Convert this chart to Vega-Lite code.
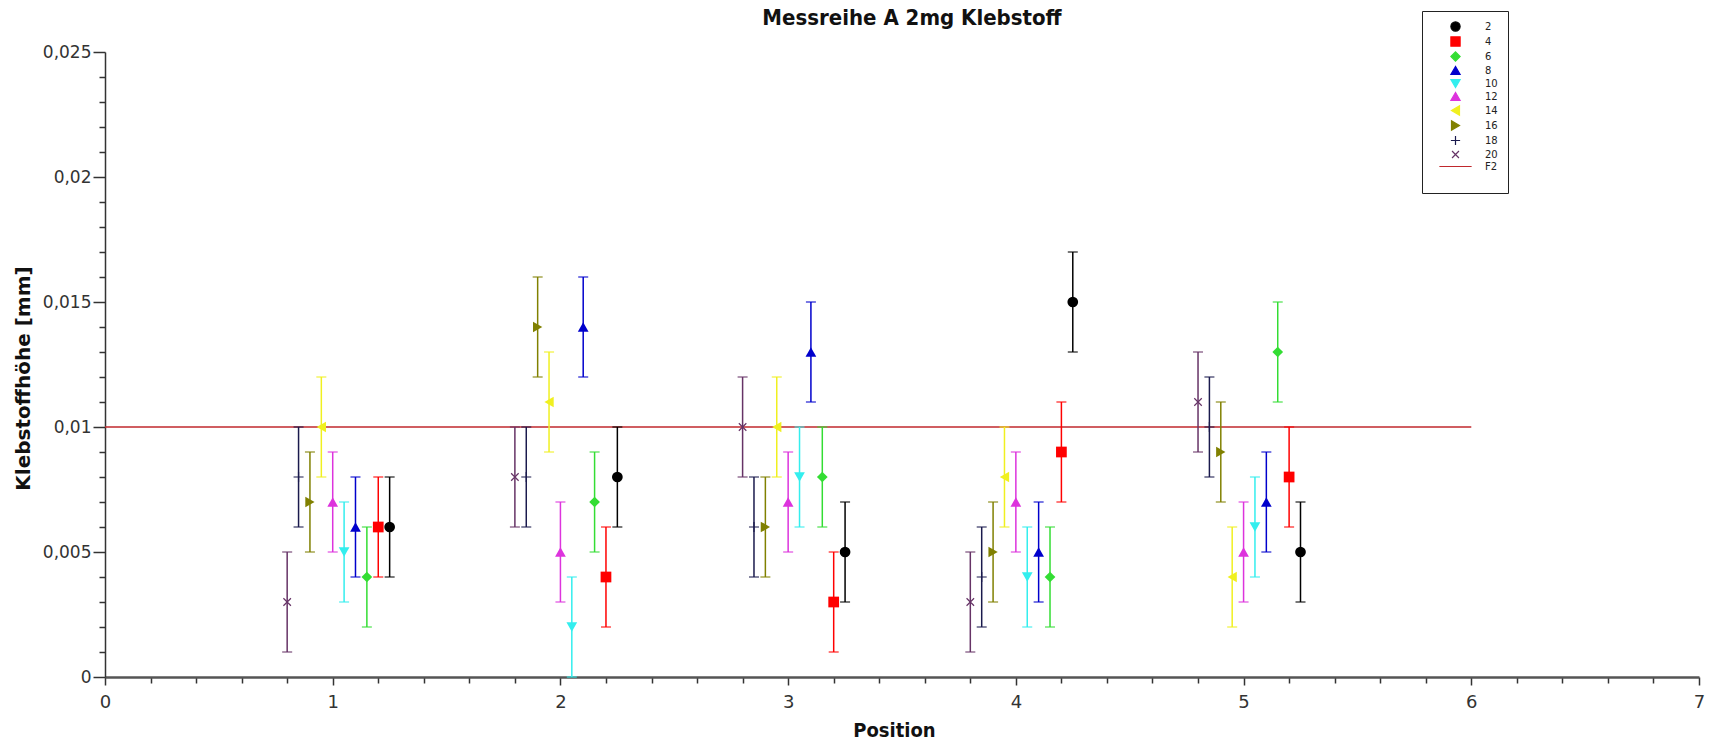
{
  "$schema": "https://vega.github.io/schema/vega-lite/v6.json",
  "width": 1594,
  "height": 625,
  "autosize": {"type": "none"},
  "padding": {"left": 105, "top": 52, "right": 14, "bottom": 66},
  "background": "white",
  "config": {"view": {"stroke": null}, "font": "DejaVu Sans"},
  "title": {"text": "Messreihe A 2mg Klebstoff", "fontSize": 22, "font": "DejaVu Sans Condensed, DejaVu Sans", "fontWeight": "bold", "anchor": "middle", "frame": "group", "dx": 10, "offset": -19, "color": "#111"},
  "resolve": {"legend": {"color": "independent", "shape": "independent"}},
  "datasets": {
    "pts": [
      {"series": "20", "x": 0.8, "y": 0.003, "lo": 0.001, "hi": 0.005},
      {"series": "18", "x": 0.85, "y": 0.008, "lo": 0.006, "hi": 0.010},
      {"series": "16", "x": 0.9, "y": 0.007, "lo": 0.005, "hi": 0.009},
      {"series": "14", "x": 0.95, "y": 0.010, "lo": 0.008, "hi": 0.012},
      {"series": "12", "x": 1.0, "y": 0.007, "lo": 0.005, "hi": 0.009},
      {"series": "10", "x": 1.05, "y": 0.005, "lo": 0.003, "hi": 0.007},
      {"series": "8", "x": 1.1, "y": 0.006, "lo": 0.004, "hi": 0.008},
      {"series": "6", "x": 1.15, "y": 0.004, "lo": 0.002, "hi": 0.006},
      {"series": "4", "x": 1.2, "y": 0.006, "lo": 0.004, "hi": 0.008},
      {"series": "2", "x": 1.25, "y": 0.006, "lo": 0.004, "hi": 0.008},
      {"series": "20", "x": 1.8, "y": 0.008, "lo": 0.006, "hi": 0.010},
      {"series": "18", "x": 1.85, "y": 0.008, "lo": 0.006, "hi": 0.010},
      {"series": "16", "x": 1.9, "y": 0.014, "lo": 0.012, "hi": 0.016},
      {"series": "14", "x": 1.95, "y": 0.011, "lo": 0.009, "hi": 0.013},
      {"series": "12", "x": 2.0, "y": 0.005, "lo": 0.003, "hi": 0.007},
      {"series": "10", "x": 2.05, "y": 0.002, "lo": 0.0, "hi": 0.004},
      {"series": "8", "x": 2.1, "y": 0.014, "lo": 0.012, "hi": 0.016},
      {"series": "6", "x": 2.15, "y": 0.007, "lo": 0.005, "hi": 0.009},
      {"series": "4", "x": 2.2, "y": 0.004, "lo": 0.002, "hi": 0.006},
      {"series": "2", "x": 2.25, "y": 0.008, "lo": 0.006, "hi": 0.010},
      {"series": "20", "x": 2.8, "y": 0.010, "lo": 0.008, "hi": 0.012},
      {"series": "18", "x": 2.85, "y": 0.006, "lo": 0.004, "hi": 0.008},
      {"series": "16", "x": 2.9, "y": 0.006, "lo": 0.004, "hi": 0.008},
      {"series": "14", "x": 2.95, "y": 0.010, "lo": 0.008, "hi": 0.012},
      {"series": "12", "x": 3.0, "y": 0.007, "lo": 0.005, "hi": 0.009},
      {"series": "10", "x": 3.05, "y": 0.008, "lo": 0.006, "hi": 0.010},
      {"series": "8", "x": 3.1, "y": 0.013, "lo": 0.011, "hi": 0.015},
      {"series": "6", "x": 3.15, "y": 0.008, "lo": 0.006, "hi": 0.010},
      {"series": "4", "x": 3.2, "y": 0.003, "lo": 0.001, "hi": 0.005},
      {"series": "2", "x": 3.25, "y": 0.005, "lo": 0.003, "hi": 0.007},
      {"series": "20", "x": 3.8, "y": 0.003, "lo": 0.001, "hi": 0.005},
      {"series": "18", "x": 3.85, "y": 0.004, "lo": 0.002, "hi": 0.006},
      {"series": "16", "x": 3.9, "y": 0.005, "lo": 0.003, "hi": 0.007},
      {"series": "14", "x": 3.95, "y": 0.008, "lo": 0.006, "hi": 0.010},
      {"series": "12", "x": 4.0, "y": 0.007, "lo": 0.005, "hi": 0.009},
      {"series": "10", "x": 4.05, "y": 0.004, "lo": 0.002, "hi": 0.006},
      {"series": "8", "x": 4.1, "y": 0.005, "lo": 0.003, "hi": 0.007},
      {"series": "6", "x": 4.15, "y": 0.004, "lo": 0.002, "hi": 0.006},
      {"series": "4", "x": 4.2, "y": 0.009, "lo": 0.007, "hi": 0.011},
      {"series": "2", "x": 4.25, "y": 0.015, "lo": 0.013, "hi": 0.017},
      {"series": "20", "x": 4.8, "y": 0.011, "lo": 0.009, "hi": 0.013},
      {"series": "18", "x": 4.85, "y": 0.010, "lo": 0.008, "hi": 0.012},
      {"series": "16", "x": 4.9, "y": 0.009, "lo": 0.007, "hi": 0.011},
      {"series": "14", "x": 4.95, "y": 0.004, "lo": 0.002, "hi": 0.006},
      {"series": "12", "x": 5.0, "y": 0.005, "lo": 0.003, "hi": 0.007},
      {"series": "10", "x": 5.05, "y": 0.006, "lo": 0.004, "hi": 0.008},
      {"series": "8", "x": 5.1, "y": 0.007, "lo": 0.005, "hi": 0.009},
      {"series": "6", "x": 5.15, "y": 0.013, "lo": 0.011, "hi": 0.015},
      {"series": "4", "x": 5.2, "y": 0.008, "lo": 0.006, "hi": 0.010},
      {"series": "2", "x": 5.25, "y": 0.005, "lo": 0.003, "hi": 0.007}
    ],
    "f2": [{"series": "F2", "x": 0, "x2": 6, "y": 0.01}]
  },
  "data": {"name": "pts"},
  "encoding": {
    "x": {
      "field": "x", "type": "quantitative",
      "scale": {"domain": [0, 7], "nice": false, "zero": false},
      "axis": {
        "values": [0, 0.2, 0.4, 0.6, 0.8, 1, 1.2, 1.4, 1.6, 1.8, 2, 2.2, 2.4, 2.6, 2.8, 3, 3.2, 3.4, 3.6, 3.8, 4, 4.2, 4.4, 4.6, 4.8, 5, 5.2, 5.4, 5.6, 5.8, 6, 6.2, 6.4, 6.6, 6.8, 7],
        "labelExpr": "datum.value % 1 == 0 ? toString(datum.value) : ''",
        "tickSize": {"condition": {"test": "datum.value % 1 == 0", "value": 8}, "value": 6},
        "grid": false,
        "title": "Position",
        "titleFont": "DejaVu Sans Condensed, DejaVu Sans",
        "titleFontWeight": "bold",
        "titleFontSize": 20,
        "titleColor": "#111",
        "titleX": 789,
        "titleY": 53,
        "titleBaseline": "middle",
        "labelFontSize": 18,
        "labelFont": "DejaVu Sans",
        "labelColor": "#333",
        "labelPadding": 8,
        "labelFlush": false,
        "labelOverlap": false,
        "domainColor": "#555",
        "domainWidth": 2.5,
        "tickColor": "#333",
        "tickWidth": 1.5
      }
    },
    "y": {
      "field": "y", "type": "quantitative",
      "scale": {"domain": [0, 0.025], "nice": false, "zero": true},
      "axis": {
        "values": [0, 0.001, 0.002, 0.003, 0.004, 0.005, 0.006, 0.007, 0.008, 0.009, 0.01, 0.011, 0.012, 0.013, 0.014, 0.015, 0.016, 0.017, 0.018, 0.019, 0.02, 0.021, 0.022, 0.023, 0.024, 0.025],
        "labelExpr": "round(datum.value*1000) % 5 == 0 ? replace(toString(datum.value), '.', ',') : ''",
        "tickSize": {"condition": {"test": "round(datum.value*1000) % 5 == 0", "value": 12}, "value": 6},
        "grid": false,
        "title": "Klebstoffhöhe [mm]",
        "titleFont": "DejaVu Sans",
        "titleFontWeight": "bold",
        "titleFontSize": 20,
        "titleColor": "#111",
        "titleX": -82,
        "titleY": 326,
        "titleBaseline": "middle",
        "labelFontSize": 17,
        "labelColor": "#333",
        "labelPadding": 2,
        "labelOverlap": false,
        "domainColor": "#333",
        "domainWidth": 1.5,
        "tickColor": "#333",
        "tickWidth": 1.5
      }
    }
  },
  "layer": [
    {
      "data": {"name": "f2"},
      "mark": {"type": "rule", "color": "#c0282d", "strokeWidth": 1.5},
      "encoding": {
        "x2": {"field": "x2"}
      }
    },
    {
      "mark": {"type": "errorbar", "ticks": true, "size": 10, "thickness": 1.5},
      "encoding": {
        "y": {
          "field": "lo", "type": "quantitative",
          "scale": {"domain": [0, 0.025], "nice": false, "zero": true},
          "axis": {
            "values": [0, 0.001, 0.002, 0.003, 0.004, 0.005, 0.006, 0.007, 0.008, 0.009, 0.01, 0.011, 0.012, 0.013, 0.014, 0.015, 0.016, 0.017, 0.018, 0.019, 0.02, 0.021, 0.022, 0.023, 0.024, 0.025],
            "labelExpr": "round(datum.value*1000) % 5 == 0 ? replace(toString(datum.value), '.', ',') : ''",
            "tickSize": {"condition": {"test": "round(datum.value*1000) % 5 == 0", "value": 12}, "value": 6},
            "grid": false,
            "title": "Klebstoffhöhe [mm]",
            "titleFont": "DejaVu Sans",
            "titleFontWeight": "bold",
            "titleFontSize": 20,
            "titleColor": "#111",
            "titleX": -82,
            "titleY": 326,
            "titleBaseline": "middle",
            "labelFontSize": 17,
            "labelColor": "#333",
            "labelPadding": 2,
            "labelOverlap": false,
            "domainColor": "#333",
            "domainWidth": 1.5,
            "tickColor": "#333",
            "tickWidth": 1.5
          }
        },
        "y2": {"field": "hi"},
        "color": {"field": "series", "type": "nominal", "legend": null}
      }
    },
    {
      "transform": [{"filter": "datum.series != '18' && datum.series != '20'"}],
      "mark": {"type": "point", "filled": true, "size": 115, "opacity": 1, "strokeWidth": 0},
      "encoding": {
        "color": {
          "field": "series", "type": "nominal",
          "scale": {
            "domain": ["2", "4", "6", "8", "10", "12", "14", "16", "18", "20", "F2"],
            "range": ["#000000", "#ff0000", "#33dd33", "#0000cc", "#33eeee", "#dd33dd", "#f0f020", "#808000", "#1a1a4d", "#663366", "#c0282d"]
          },
          "legend": {
            "orient": "none", "legendX": 1317, "legendY": -41, "title": " ", "titleOrient": "bottom", "titleFontSize": 9, "titlePadding": 2,
            "strokeColor": "#222", "fillColor": "white", "padding": 10,
            "symbolOffset": 18, "labelOffset": 24, "labelFontSize": 10, "labelFont": "DejaVu Sans", "labelColor": "#222",
            "rowPadding": 0, "symbolSize": 85, "symbolStrokeWidth": 1.2, "symbolOpacity": 1,
            "encode": {"symbols": {"update": {"stroke": {"scale": "color", "field": "value"}}}}
          }
        },
        "shape": {
          "field": "series", "type": "nominal",
          "scale": {
            "domain": ["2", "4", "6", "8", "10", "12", "14", "16", "18", "20", "F2"],
            "range": ["circle", "square", "diamond", "triangle-up", "triangle-down", "triangle-up", "triangle-left", "triangle-right", "M-1,0L1,0M0,-1L0,1", "M-0.75,-0.75L0.75,0.75M-0.75,0.75L0.75,-0.75", "M-3.5,0L3.5,0"]
          },
          "legend": {
            "orient": "none", "legendX": 1317, "legendY": -41, "title": " ", "titleOrient": "bottom", "titleFontSize": 9, "titlePadding": 2,
            "strokeColor": "#222", "fillColor": "white", "padding": 10,
            "symbolOffset": 18, "labelOffset": 24, "labelFontSize": 10, "labelFont": "DejaVu Sans", "labelColor": "#222",
            "rowPadding": 0, "symbolSize": 85, "symbolStrokeWidth": 1.2, "symbolOpacity": 1,
            "encode": {"symbols": {"update": {"stroke": {"scale": "color", "field": "value"}}}}
          }
        }
      }
    },
    {
      "transform": [{"filter": "datum.series == '18' || datum.series == '20'"}],
      "mark": {"type": "point", "filled": false, "size": 100, "opacity": 1, "strokeWidth": 1.2},
      "encoding": {
        "color": {"field": "series", "type": "nominal", "legend": null},
        "shape": {"field": "series", "type": "nominal", "legend": null}
      }
    }
  ]
}
